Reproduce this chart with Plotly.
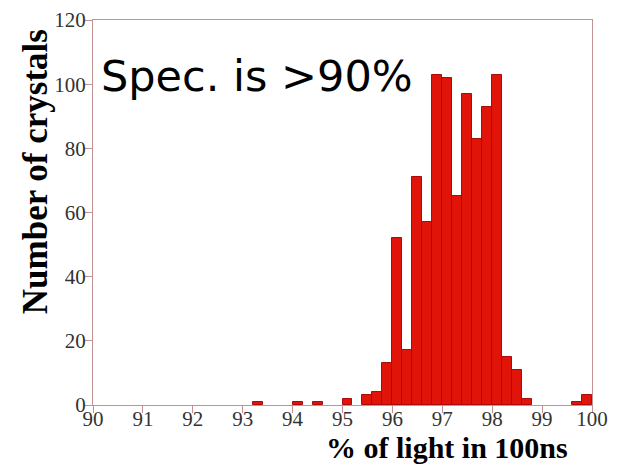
import plotly.graph_objects as go

bin_start = [93.2, 94.0, 94.4, 95.0, 95.4, 95.6, 95.8, 96.0, 96.2, 96.4, 96.6, 96.8,
             97.0, 97.2, 97.4, 97.6, 97.8, 98.0, 98.2, 98.4, 98.6, 99.6, 99.8]
counts = [1, 1, 1, 2, 3, 4, 13, 52, 17, 71, 57, 103,
          102, 65, 97, 83, 93, 103, 15, 11, 2, 1, 3]
bin_width = 0.2
x_ticks = [90, 91, 92, 93, 94, 95, 96, 97, 98, 99, 100]
y_ticks = [0, 20, 40, 60, 80, 100, 120]

centers = [b + bin_width / 2 for b in bin_start]

fig = go.Figure(go.Bar(
    x=centers, y=counts, width=bin_width,
    marker=dict(color="#e01408", line=dict(color="#a80c0c", width=1)),
))

axis_col = "#c49090"
fig.update_layout(
    width=617, height=469,
    margin=dict(l=85, r=33, t=12, b=72),
    paper_bgcolor="white", plot_bgcolor="white",
    showlegend=False, bargap=0,
    font=dict(family="Liberation Serif", color="#222"),
)
fig.update_xaxes(
    range=[90, 100], tickvals=x_ticks, ticks="outside", ticklen=7, tickcolor=axis_col,
    showline=True, linecolor=axis_col, mirror=True, showgrid=False, zeroline=False,
    automargin=False, ticklabelstandoff=-12,
    tickfont=dict(size=21, family="Liberation Serif", color="#333"),
)
fig.update_yaxes(
    range=[0, 120], tickvals=y_ticks, ticks="outside", ticklen=7, tickcolor=axis_col,
    showline=True, linecolor=axis_col, mirror=True, showgrid=False, zeroline=False,
    automargin=False, ticklabelstandoff=-5,
    tickfont=dict(size=21, family="Liberation Serif", color="#333"),
)
fig.add_annotation(
    text="<b>Number of crystals</b>", textangle=-90,
    xref="paper", yref="paper", x=-0.116, y=0.605, xanchor="center", yanchor="middle",
    showarrow=False, font=dict(size=35, family="Liberation Serif", color="black"),
)
fig.add_annotation(
    text="<b>% of light in 100ns</b>",
    xref="paper", yref="paper", x=0.71, y=-0.11, xanchor="center", yanchor="middle",
    showarrow=False, font=dict(size=30, family="Liberation Serif", color="black"),
)
fig.add_annotation(
    text="Spec. is >90%",
    xref="paper", yref="paper", x=0.013, y=0.855, xanchor="left", yanchor="middle",
    showarrow=False, font=dict(size=43, family="DejaVu Sans", color="black"),
)
fig.write_html("out.html")
